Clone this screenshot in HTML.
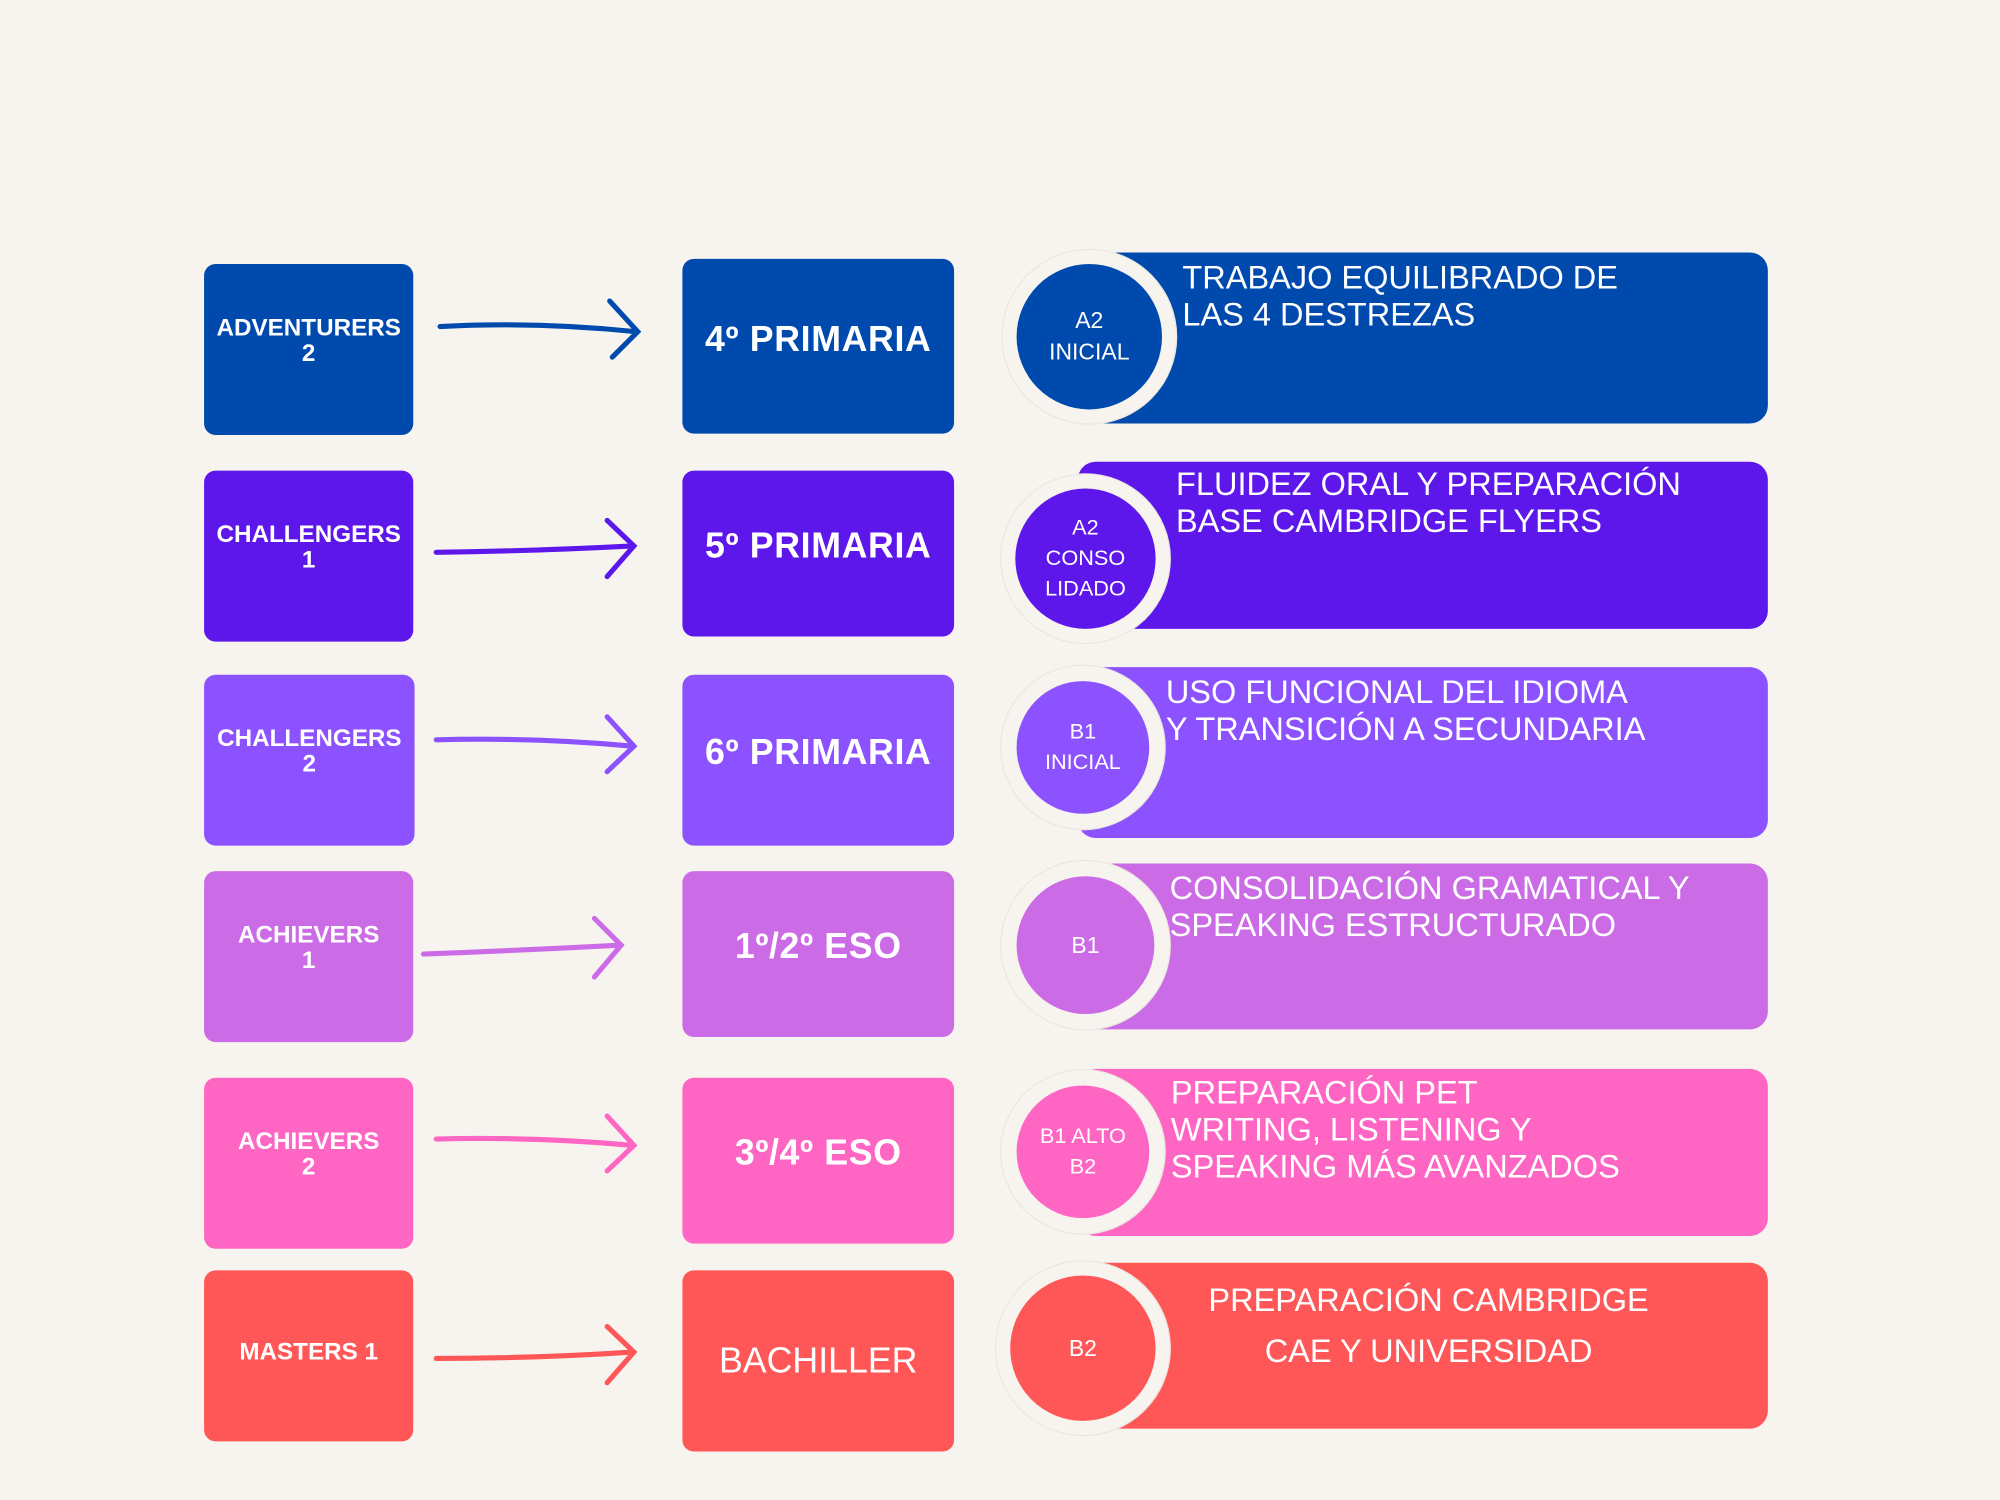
<!DOCTYPE html>
<html><head><meta charset="utf-8"><style>
html,body{margin:0;padding:0;background:#f7f4ef;}
body{width:2000px;height:1500px;overflow:hidden;}
#c{position:absolute;left:0;top:0;width:1568px;height:1176px;transform:scale(1.27551);transform-origin:0 0;font-family:"Liberation Sans",sans-serif;color:#fff;}
.b{position:absolute;border-radius:9px;display:flex;align-items:center;justify-content:center;text-align:center;box-sizing:border-box;}
.l{font-weight:bold;font-size:19px;line-height:20px;padding-bottom:12px;}
.m{font-weight:bold;font-size:28px;letter-spacing:0.5px;padding-bottom:12px;}
.bar{position:absolute;border-radius:14px;}
.ring{position:absolute;border-radius:50%;background:#f7f4ef;box-shadow:0 0 0 1px #ebe7e0;}
.cir{position:absolute;border-radius:50%;display:flex;align-items:center;justify-content:center;text-align:center;font-size:18px;line-height:25px;}
.t{position:absolute;font-size:25.5px;line-height:29px;white-space:nowrap;}
svg{position:absolute;left:0;top:0;}
</style></head><body><div id="c">
<svg width="1568" height="1176" fill="none" stroke-width="4" stroke-linecap="round">
<g stroke="#004aad"><path d="M345 256 Q420 252 498 260"/><path d="M478 236 L500 260 L480 280"/></g>
<g stroke="#5e17eb"><path d="M342 433 Q420 432 496 428"/><path d="M476 408 L497 428 L476 452"/></g>
<g stroke="#8c52ff"><path d="M342 580 Q420 578 496 585"/><path d="M476 562 L497 585 L476 605"/></g>
<g stroke="#cb6ce6"><path d="M332 748 Q410 745 486 741"/><path d="M466 720 L487 741 L466 766"/></g>
<g stroke="#ff66c4"><path d="M342 893 Q420 891 496 898"/><path d="M476 875 L497 898 L476 918"/></g>
<g stroke="#ff5757"><path d="M342 1065 Q420 1065 496 1060"/><path d="M476 1040 L497 1060 L476 1084"/></g>
</svg>

<div class="b l" style="left:160px;top:207px;width:164px;height:134px;background:#004aad">ADVENTURERS<br>2</div>
<div class="b m" style="left:535px;top:203px;width:213px;height:137px;background:#004aad">4º PRIMARIA</div>
<div class="bar" style="left:845px;top:198px;width:541px;height:134px;background:#004aad"></div>
<div class="ring" style="left:786px;top:196px;width:136px;height:136px"></div>
<div class="cir" style="left:797px;top:207px;width:114px;height:114px;background:#004aad">A2<br>INICIAL</div>
<div class="t" style="left:927px;top:204px">TRABAJO EQUILIBRADO DE<br>LAS 4 DESTREZAS</div>

<div class="b l" style="left:160px;top:369px;width:164px;height:134px;background:#5e17eb">CHALLENGERS<br>1</div>
<div class="b m" style="left:535px;top:369px;width:213px;height:130px;background:#5e17eb">5º PRIMARIA</div>
<div class="bar" style="left:845px;top:362px;width:541px;height:131px;background:#5e17eb"></div>
<div class="ring" style="left:785px;top:372px;width:132px;height:132px"></div>
<div class="cir" style="left:796px;top:383px;width:110px;height:110px;background:#5e17eb;font-size:17px;line-height:24px">A2<br>CONSO<br>LIDADO</div>
<div class="t" style="left:922px;top:366px">FLUIDEZ ORAL Y PREPARACIÓN<br>BASE CAMBRIDGE FLYERS</div>

<div class="b l" style="left:160px;top:529px;width:165px;height:134px;background:#8c52ff">CHALLENGERS<br>2</div>
<div class="b m" style="left:535px;top:529px;width:213px;height:134px;background:#8c52ff">6º PRIMARIA</div>
<div class="bar" style="left:845px;top:523px;width:541px;height:134px;background:#8c52ff"></div>
<div class="ring" style="left:785px;top:522px;width:128px;height:128px"></div>
<div class="cir" style="left:797px;top:534px;width:104px;height:104px;background:#8c52ff;font-size:17px;line-height:24px">B1<br>INICIAL</div>
<div class="t" style="left:914px;top:529px">USO FUNCIONAL DEL IDIOMA<br>Y TRANSICIÓN A SECUNDARIA</div>

<div class="b l" style="left:160px;top:683px;width:164px;height:134px;background:#cb6ce6">ACHIEVERS<br>1</div>
<div class="b m" style="left:535px;top:683px;width:213px;height:130px;background:#cb6ce6">1º/2º ESO</div>
<div class="bar" style="left:845px;top:677px;width:541px;height:130px;background:#cb6ce6"></div>
<div class="ring" style="left:785px;top:675px;width:132px;height:132px"></div>
<div class="cir" style="left:797px;top:687px;width:108px;height:108px;background:#cb6ce6">B1</div>
<div class="t" style="left:917px;top:683px">CONSOLIDACIÓN GRAMATICAL Y<br>SPEAKING ESTRUCTURADO</div>

<div class="b l" style="left:160px;top:845px;width:164px;height:134px;background:#ff66c4">ACHIEVERS<br>2</div>
<div class="b m" style="left:535px;top:845px;width:213px;height:130px;background:#ff66c4">3º/4º ESO</div>
<div class="bar" style="left:845px;top:838px;width:541px;height:131px;background:#ff66c4"></div>
<div class="ring" style="left:785px;top:839px;width:128px;height:128px"></div>
<div class="cir" style="left:797px;top:851px;width:104px;height:104px;background:#ff66c4;font-size:17px;line-height:24px">B1 ALTO<br>B2</div>
<div class="t" style="left:918px;top:843px">PREPARACIÓN PET<br>WRITING, LISTENING Y<br>SPEAKING MÁS AVANZADOS</div>

<div class="b l" style="left:160px;top:996px;width:164px;height:134px;background:#ff5757;padding-bottom:4px">MASTERS 1</div>
<div class="b" style="left:535px;top:996px;width:213px;height:142px;background:#ff5757;font-size:28px">BACHILLER</div>
<div class="bar" style="left:845px;top:990px;width:541px;height:130px;background:#ff5757"></div>
<div class="ring" style="left:781px;top:989px;width:136px;height:136px"></div>
<div class="cir" style="left:792px;top:1000px;width:114px;height:114px;background:#ff5757">B2</div>
<div class="t" style="left:895px;top:1000px;width:450px;text-align:center;line-height:40px">PREPARACIÓN CAMBRIDGE<br>CAE Y UNIVERSIDAD</div>
</div></body></html>
